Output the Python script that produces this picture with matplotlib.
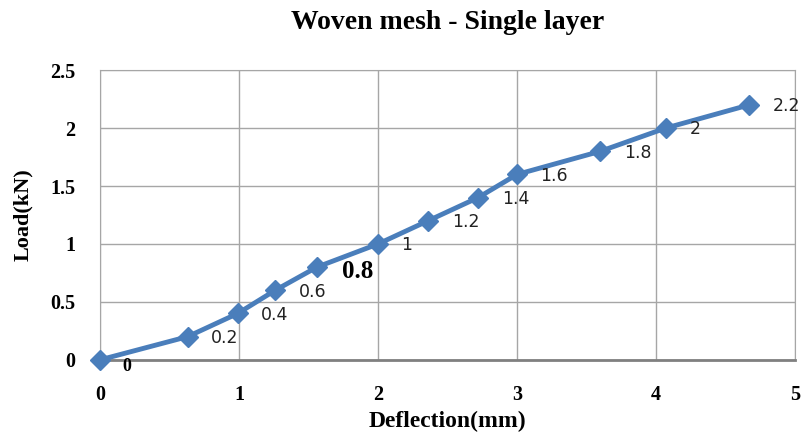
import numpy as np
import matplotlib
matplotlib.use("Agg")
import matplotlib.pyplot as plt

# ----------------------------
# Data
# ----------------------------

deflection = [0.0, 0.63, 0.99, 1.26, 1.56, 2.0, 2.36, 2.72, 3.0, 3.6, 4.07, 4.67]
load = [0.0, 0.2, 0.4, 0.6, 0.8, 1.0, 1.2, 1.4, 1.6, 1.8, 2.0, 2.2]
point_labels = ["0", "0.2", "0.4", "0.6", "0.8", "1", "1.2", "1.4", "1.6", "1.8", "2", "2.2"]

x_ticks = [0, 1, 2, 3, 4, 5]
y_ticks = [0, 0.5, 1, 1.5, 2, 2.5]
y_tick_labels = ["0", "0.5", "1", "1.5", "2", "2.5"]

# ----------------------------
# Plot
# ----------------------------

blue = "#4a7ebb"
serif = "Liberation Serif"

fig = plt.figure(figsize=(8.07, 4.47), dpi=100)
ax = fig.add_axes([0.124, 0.195, 0.861, 0.648])

ax.plot(deflection, load, color=blue, lw=3.5, marker="D", ms=10,
        markeredgecolor=blue, zorder=3, clip_on=False)

for x, y, t in zip(deflection, load, point_labels):
    if t == "0.8":
        ax.annotate(t, (x, y), xytext=(18, -3), textcoords="offset points",
                    fontsize=18, fontweight="bold", family=serif, va="center")
    elif t == "0":
        ax.annotate(t, (x, y), xytext=(16, -5), textcoords="offset points",
                    fontsize=13, fontweight="bold", family=serif, va="center")
    else:
        ax.annotate(t, (x, y), xytext=(17, -1), textcoords="offset points",
                    fontsize=12.5, color="#222222", va="center")

ax.set_xlim(0, 5)
ax.set_ylim(0, 2.5)
ax.set_xticks(x_ticks)
ax.set_yticks(y_ticks)
ax.set_yticklabels(y_tick_labels)
ax.tick_params(length=0, labelsize=14.5)
ax.tick_params(axis="x", pad=18)
ax.tick_params(axis="y", pad=18)
for lab in ax.get_xticklabels() + ax.get_yticklabels():
    lab.set_family(serif)
    lab.set_fontweight("bold")

ax.grid(True, color="#a6a6a6", lw=1)
ax.set_axisbelow(True)
for s in ["top", "right", "left"]:
    ax.spines[s].set_color("#a6a6a6")
ax.spines["bottom"].set_color("#808080")
ax.spines["bottom"].set_linewidth(2)

ax.set_title("Woven mesh - Single layer", fontsize=20, fontweight="bold",
             family=serif, pad=30)
ax.set_xlabel("Deflection(mm)", fontsize=17, fontweight="bold", family=serif, labelpad=4)
ax.set_ylabel("Load(kN)", fontsize=16, fontweight="bold", family=serif, labelpad=12)

plt.savefig("out.png", dpi=100)
